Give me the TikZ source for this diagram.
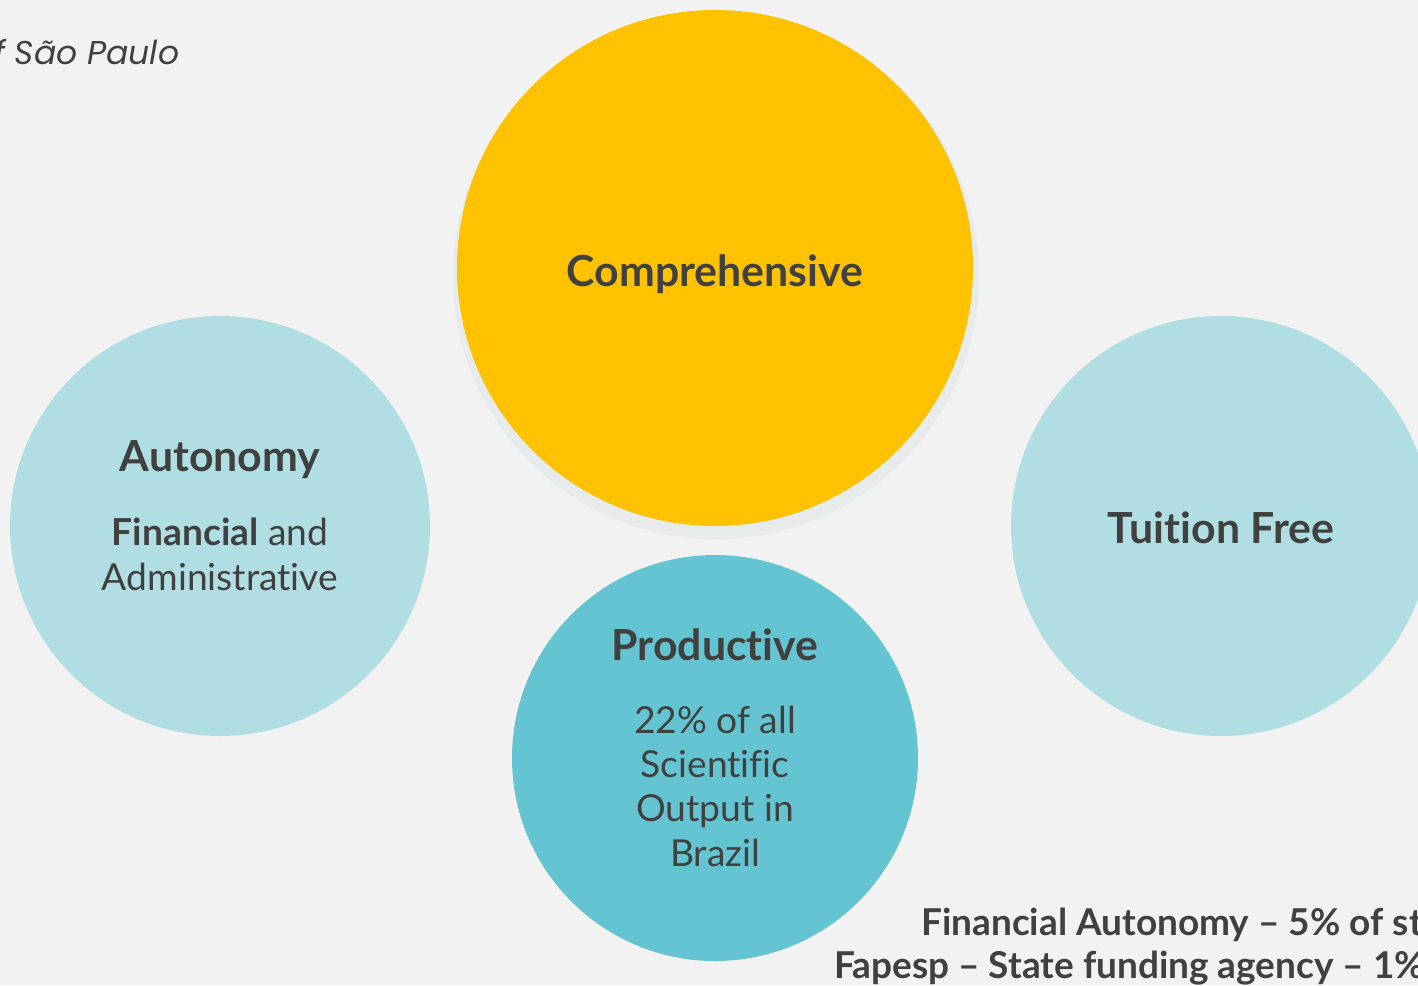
\documentclass[tikz,border=0pt]{standalone}
\usepackage{fontspec}
\setmainfont{Lato}[Ligatures={NoCommon}]
\newfontfamily\popfont{Poppins}
\definecolor{bgc}{HTML}{F2F2F2}
\definecolor{txt}{HTML}{404040}
\definecolor{gold}{HTML}{FFC200}
\definecolor{shadowc}{HTML}{E7EBEB}
\definecolor{lightteal}{HTML}{B0DEE3}
\definecolor{teal}{HTML}{64C4D2}
\tikzset{
  disc/.style={circle, inner sep=0pt, draw=none},
  headtxt/.style={anchor=base, text=txt, font=\fontsize{42.8}{50}\selectfont\bfseries},
  bodytxt/.style={anchor=base, text=txt, font=\fontsize{37.2}{44}\selectfont},
  foottxt/.style={anchor=base west, text=txt, font=\fontsize{37}{44}\selectfont\bfseries, inner sep=0pt},
}
\begin{document}
\begin{tikzpicture}[x=1pt,y=-1pt]
\fill[bgc] (0,0) rectangle (1418,985);
\useasboundingbox (0,0) rectangle (1418,985);
\clip (0,0) rectangle (1418,985);
% top-left caption
\node[anchor=base west, inner sep=0pt, text=txt, font=\popfont\itshape\fontsize{33}{40}\selectfont] (caption) at (-6,64) {f São Paulo};
% circles
\node[disc, fill=shadowc, minimum size=526pt] (shadow) at (716,276) {};
\node[disc, fill=gold, minimum size=516pt] (comp) at (715,268) {};
\node[disc, fill=lightteal, minimum size=420pt] (auto) at (220,526) {};
\node[disc, fill=lightteal, minimum size=420pt] (tuit) at (1221,526) {};
\node[disc, fill=teal, minimum size=406pt] (prod) at (715,758) {};
% texts
\node[headtxt] (tcomp) at (715,286) {Comprehensive};
\node[headtxt] (tauto) at (220,471) {Autonomy};
\node[bodytxt] (tauto1) at (220,545) {\textbf{Financial} and};
\node[bodytxt] (tauto2) at (220,590) {Administrative};
\node[headtxt] (ttuit) at (1221,543) {Tuition Free};
\node[headtxt] (tprod) at (715,660) {Productive};
\node[bodytxt] (tprod1) at (715,733) {22\% of all};
\node[bodytxt] (tprod2) at (715,777) {Scientific};
\node[bodytxt] (tprod3) at (715,821) {Output in};
\node[bodytxt] (tprod4) at (715,866) {Brazil};
% footer
\node[foottxt] (foot1) at (921,935) {Financial Autonomy – 5\% of st};
\node[foottxt] (foot2) at (834,978) {Fapesp – State funding agency – 1\%};
\end{tikzpicture}
\end{document}
